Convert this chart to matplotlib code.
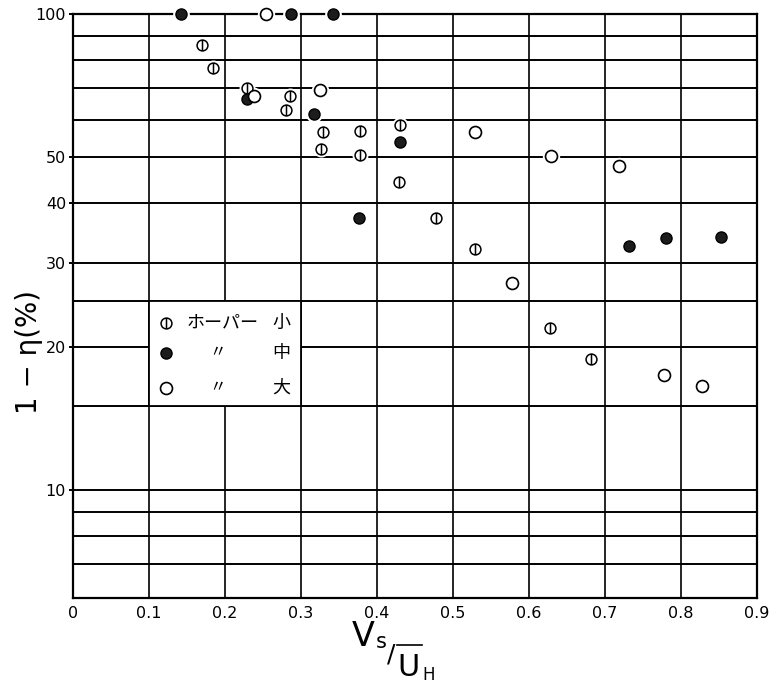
import numpy as np
import matplotlib.pyplot as plt
from matplotlib.path import Path
from matplotlib.lines import Line2D
from matplotlib.patches import Rectangle

plt.rcParams['font.family'] = ['DejaVu Sans']

# ホーパー 小 (circle with vertical bar)
x_small = [0.170, 0.184, 0.229, 0.285, 0.280, 0.329, 0.326, 0.377, 0.377,
           0.430, 0.429, 0.477, 0.529, 0.627, 0.682]
y_small = [86.0, 77.0, 70.0, 67.3, 62.9, 56.5, 52.0, 56.8, 50.6,
           58.4, 44.4, 37.3, 32.1, 21.9, 18.8]

# ホーパー 中 (filled)
x_mid = [0.142, 0.287, 0.342, 0.229, 0.317, 0.376, 0.430, 0.731, 0.780, 0.853]
y_mid = [100.0, 100.0, 100.0, 66.3, 61.6, 37.3, 53.8, 32.6, 33.9, 34.0]

# ホーパー 大 (open)
x_big = [0.254, 0.238, 0.325, 0.529, 0.629, 0.719, 0.578, 0.778, 0.827]
y_big = [100.0, 67.3, 69.2, 56.5, 50.3, 47.9, 27.2, 17.4, 16.5]

y_grid = [7, 8, 9, 10, 15, 20, 25, 30, 40, 50, 60, 70, 80, 90]
x_grid = [0.1, 0.2, 0.3, 0.4, 0.5, 0.6, 0.7, 0.8]
y_ticks = [10, 20, 30, 40, 50, 100]
x_ticks = [0, 0.1, 0.2, 0.3, 0.4, 0.5, 0.6, 0.7, 0.8, 0.9]
x_ticklabels = ["0", "0.1", "0.2", "0.3", "0.4", "0.5", "0.6", "0.7", "0.8", "0.9"]

# circle with a vertical stroke through the middle
circ = Path.unit_circle()
bar_circle = Path(np.concatenate([circ.vertices, [[0, -1], [0, 1]]]),
                  np.concatenate([circ.codes, [Path.MOVETO, Path.LINETO]]))

fig = plt.figure(figsize=(7.74, 6.89), dpi=100)
ax = fig.add_axes([73 / 774, 1 - 598 / 689, 684 / 774, 584 / 689])
ax.set_yscale('log')
ax.set_xlim(0, 0.9)
ax.set_ylim(5.93, 100)

for v in y_grid:
    ax.axhline(v, color='black', lw=1.4, zorder=1)
for v in x_grid:
    ax.axvline(v, color='black', lw=1.2, zorder=1)

for s in ax.spines.values():
    s.set_linewidth(1.6)

ax.set_yticks(y_ticks)
ax.set_yticklabels([str(t) for t in y_ticks])
ax.yaxis.set_minor_locator(plt.NullLocator())
ax.set_xticks(x_ticks)
ax.set_xticklabels(x_ticklabels)
ax.tick_params(axis='y', length=3, width=1.4, pad=2, labelsize=11.5)
ax.tick_params(axis='x', length=0, pad=6, labelsize=11.5)

# white halo under each marker so grid lines break around it
for xs, ys, ms in [(x_small, y_small, 10.5), (x_mid, y_mid, 11), (x_big, y_big, 11.5)]:
    ax.plot(xs, ys, 'o', ms=ms, color='white', mec='white', zorder=3, clip_on=False)

ax.plot(x_small, y_small, ls='none', marker=bar_circle, ms=7.8, mfc='white',
        mec='black', mew=1.1, zorder=4, clip_on=False)
ax.plot(x_mid, y_mid, 'o', ms=8, mfc='#1c1c1c', mec='black', mew=1.0,
        zorder=4, clip_on=False)
ax.plot(x_big, y_big, 'o', ms=8.6, mfc='white', mec='black', mew=1.2,
        zorder=4, clip_on=False)

# legend box
ax.add_patch(Rectangle((0.1, 15), 0.2, 10, facecolor='white', edgecolor='black',
                       lw=1.3, zorder=2))
jp = ['Noto Sans CJK JP', 'DejaVu Sans']
rows = [0.471, 0.420, 0.360]
ax.plot([0.136], [rows[0]], ls='none', marker=bar_circle, ms=7.8, mfc='white',
        mec='black', mew=1.1, transform=ax.transAxes, zorder=5)
ax.plot([0.136], [rows[1]], 'o', ms=8, mfc='#1c1c1c', mec='black',
        transform=ax.transAxes, zorder=5)
ax.plot([0.136], [rows[2]], 'o', ms=8.6, mfc='white', mec='black', mew=1.2,
        transform=ax.transAxes, zorder=5)
ax.text(0.219, rows[0], "ホーパー", family=jp, fontsize=13, ha='center',
        va='center', transform=ax.transAxes, zorder=5)
for r in rows[1:]:
    ax.text(0.211, r, "〃", family=jp, fontsize=12, ha='center', va='center',
            transform=ax.transAxes, zorder=5)
for r, t in zip(rows, ["小", "中", "大"]):
    ax.text(0.304, r, t, family=jp, fontsize=13, ha='center', va='center',
            transform=ax.transAxes, zorder=5)

# axis titles
fig.text(29 / 774, 1 - 352 / 689, "1 − η(%)", rotation=90, fontsize=20,
         ha='center', va='center')

fig.text(363 / 774, 1 - 636 / 689, "V", fontsize=24, ha='center', va='center')
fig.text(381 / 774, 1 - 642 / 689, "s", fontsize=15, ha='center', va='center')
fig.text(391 / 774, 1 - 655 / 689, "/", fontsize=18, ha='center', va='center')
fig.add_artist(Line2D([397 / 774, 422 / 774], [1 - 645 / 689, 1 - 645 / 689],
                      color='black', lw=1.2))
fig.text(408 / 774, 1 - 668 / 689, "U", fontsize=22, ha='center', va='center')
fig.text(429 / 774, 1 - 675 / 689, "H", fontsize=12, ha='center', va='center')

fig.savefig("out.png", dpi=100)
